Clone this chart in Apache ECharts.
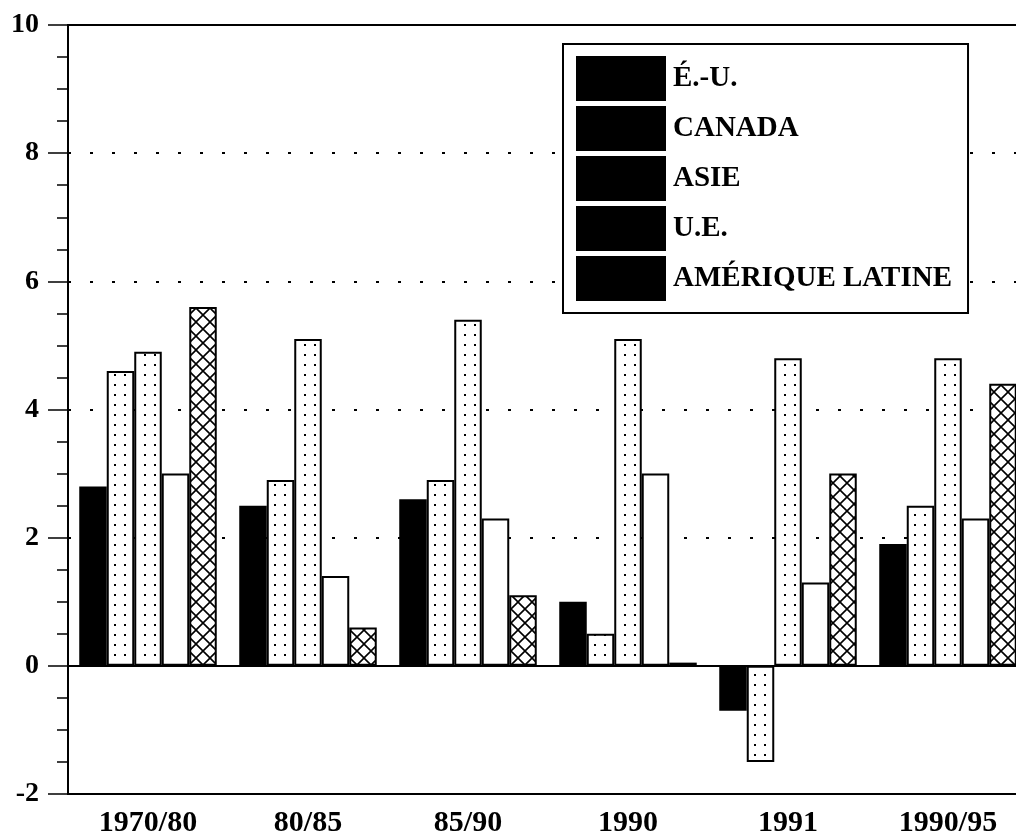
<!DOCTYPE html>
<html>
<head>
<meta charset="utf-8">
<script src="https://cdn.jsdelivr.net/npm/echarts@6/dist/echarts.min.js"></script>
<style>
    html, body { margin: 0; padding: 0; background: #fff; overflow: hidden; }
    /* le graphique deborde a droite comme dans l'original */
    #chart { width: 1040px; height: 832px; }
</style>
</head>
<body>
<div id="chart"></div>
<script>
// periodes
const categories = ['1970/80', '80/85', '85/90', '1990', '1991', '1990/95']
const seriesNames = ['É.-U.', 'CANADA', 'ASIE', 'U.E.', 'AMÉRIQUE LATINE']
const eu = [2.8, 2.5, 2.6, 1.0, -0.7, 1.9]
const canada = [4.6, 2.9, 2.9, 0.5, -1.5, 2.5]
const asie = [4.9, 5.1, 5.4, 5.1, 4.8, 4.8]
const ue = [3.0, 1.4, 2.3, 3.0, 1.3, 2.3]
const amLatine = [5.6, 0.6, 1.1, 0.05, 3.0, 4.4]
const yTicks = [-2, 0, 2, 4, 6, 8, 10]

const font = 'Liberation Serif, Times New Roman, serif'

// motifs de remplissage
function dotPattern() {
    let c = document.createElement('canvas')
    c.width = 10
    c.height = 10
    let ctx = c.getContext('2d')
    ctx.fillStyle = '#fff'
    ctx.fillRect(0, 0, 10, 10)
    ctx.fillStyle = '#000'
    ctx.fillRect(4, 4, 2, 2)
    return c
}
function crossPattern() {
    let s = 14
    let c = document.createElement('canvas')
    c.width = s
    c.height = s
    let ctx = c.getContext('2d')
    ctx.fillStyle = '#fff'
    ctx.fillRect(0, 0, s, s)
    ctx.strokeStyle = '#000'
    ctx.lineWidth = 1.6
    ctx.beginPath()
    ctx.moveTo(-1, -1); ctx.lineTo(s + 1, s + 1)
    ctx.moveTo(-1, s + 1); ctx.lineTo(s + 1, -1)
    ctx.stroke()
    return c
}
const dots = {image: dotPattern(), repeat: 'repeat'}
const cross = {image: crossPattern(), repeat: 'repeat'}

function bar(name, data, fill) {
    return {
        name: name,
        type: 'bar',
        data: data,
        barWidth: 27.5,
        barGap: '0%',
        itemStyle: {color: fill, borderColor: '#000', borderWidth: 2},
        emphasis: {disabled: true}
    }
}

const series = [
    bar(seriesNames[0], eu, '#000'),
    bar(seriesNames[1], canada, dots),
    bar(seriesNames[2], asie, dots),
    bar(seriesNames[3], ue, '#fff'),
    bar(seriesNames[4], amLatine, cross)
]
// ligne du zero
series[0].markLine = {
    silent: true,
    symbol: 'none',
    label: {show: false},
    lineStyle: {color: '#000', width: 2, type: 'solid'},
    data: [{yAxis: 0}]
}

let myChart = echarts.init(document.getElementById('chart'))
let option = {
    animation: false,
    backgroundColor: '#fff',
    grid: {
        left: 68,
        top: 25,
        width: 960,
        height: 769,
        outerBoundsMode: 'none',
        show: true,
        borderColor: '#000',
        borderWidth: 2,
        backgroundColor: 'transparent'
    },
    legend: {
        orient: 'vertical',
        left: 563,
        top: 44,
        padding: [12, 16, 12, 13],
        borderColor: '#000',
        borderWidth: 2,
        backgroundColor: '#fff',
        itemWidth: 90,
        itemHeight: 45,
        itemGap: 5,
        icon: 'rect',
        selectedMode: false,
        textStyle: {fontFamily: font, fontWeight: 'bold', fontSize: 29, color: '#000', padding: [0, 0, 0, 2]},
        data: seriesNames.map(n => ({name: n, itemStyle: {color: '#000', borderWidth: 0}}))
    },
    xAxis: {
        type: 'category',
        data: categories,
        axisLine: {onZero: false, lineStyle: {color: '#000', width: 2}},
        axisTick: {show: false},
        axisLabel: {fontFamily: font, fontWeight: 'bold', fontSize: 30, color: '#000', margin: 14},
        splitLine: {show: false}
    },
    yAxis: {
        type: 'value',
        min: yTicks[0],
        max: yTicks[yTicks.length - 1],
        interval: 2,
        axisLine: {show: true, lineStyle: {color: '#000', width: 2}},
        axisTick: {show: true, length: 20, lineStyle: {color: '#000', width: 1.5}},
        minorTick: {show: true, splitNumber: 4, length: 11, lineStyle: {color: '#000', width: 1.5}},
        axisLabel: {fontFamily: font, fontWeight: 'bold', fontSize: 28, color: '#000', margin: 29},
        splitLine: {show: true, lineStyle: {color: '#000', width: 2, type: [3, 19]}}
    },
    series: series
}
myChart.setOption(option)
</script>
</body>
</html>
